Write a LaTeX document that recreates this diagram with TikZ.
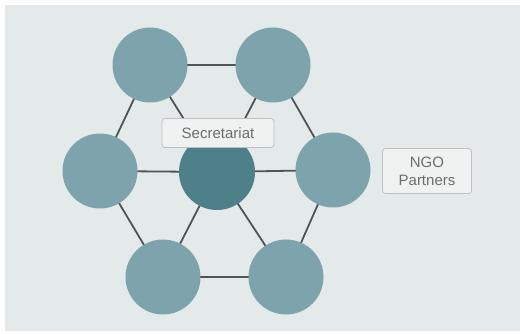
\documentclass[tikz,border=0pt]{standalone}
\usepackage{fontspec}
\setmainfont{Liberation Sans}
\pgfdeclarelayer{backdrop}
\pgfdeclarelayer{links}
\pgfsetlayers{backdrop,links,main}
\begin{document}
\begin{tikzpicture}[x=1pt,y=-1pt,
  member/.style={circle,fill=memberfill,minimum size=75pt,inner sep=0pt},
  hub/.style={circle,fill=hubfill,minimum size=76pt,inner sep=0pt},
  link/.style={draw=linkgray,line width=1.8pt},
  tag/.style={draw=tagborder,line width=0.8pt,rounded corners=3pt,fill=tagfill,
    text=taggray,font=\fontsize{15}{18}\selectfont,align=center}]
\definecolor{panel}{HTML}{E4EAE9}
\definecolor{memberfill}{HTML}{7DA4AC}
\definecolor{hubfill}{HTML}{4D8088}
\definecolor{linkgray}{HTML}{4F5557}
\definecolor{tagborder}{HTML}{B9C2C2}
\definecolor{tagfill}{HTML}{EEF2F1}
\definecolor{taggray}{HTML}{6A6E6F}
\useasboundingbox (0,0) rectangle (520,334);
\begin{pgfonlayer}{backdrop}
  \fill[white] (0,0) rectangle (520,334);
  \fill[panel] (5,5) rectangle (520,331);
\end{pgfonlayer}
% hexagon of member circles around the hub
\node[member] (tl) at (150,65) {};
\node[member] (tr) at (273,65) {};
\node[member] (ml) at (100,171) {};
\node[member] (mr) at (333,170) {};
\node[member] (bl) at (163,277) {};
\node[member] (br) at (286,277) {};
\node[hub] (c) at (217,172) {};
% connections, kept beneath the circles
\begin{pgfonlayer}{links}
  \draw[link] (tl.center) -- (tr.center) -- (mr.center) -- (br.center)
              -- (bl.center) -- (ml.center) -- cycle;
  \foreach \m in {tl,tr,ml,mr,bl,br}
    \draw[link] (c.center) -- (\m.center);
\end{pgfonlayer}
% labels
\node[tag,minimum width=112pt,minimum height=29pt] (sec) at (218,133) {Secretariat};
\node[tag,minimum width=89pt,minimum height=45pt] (ngo) at (427,171) {NGO\\Partners};
\end{tikzpicture}
\end{document}
